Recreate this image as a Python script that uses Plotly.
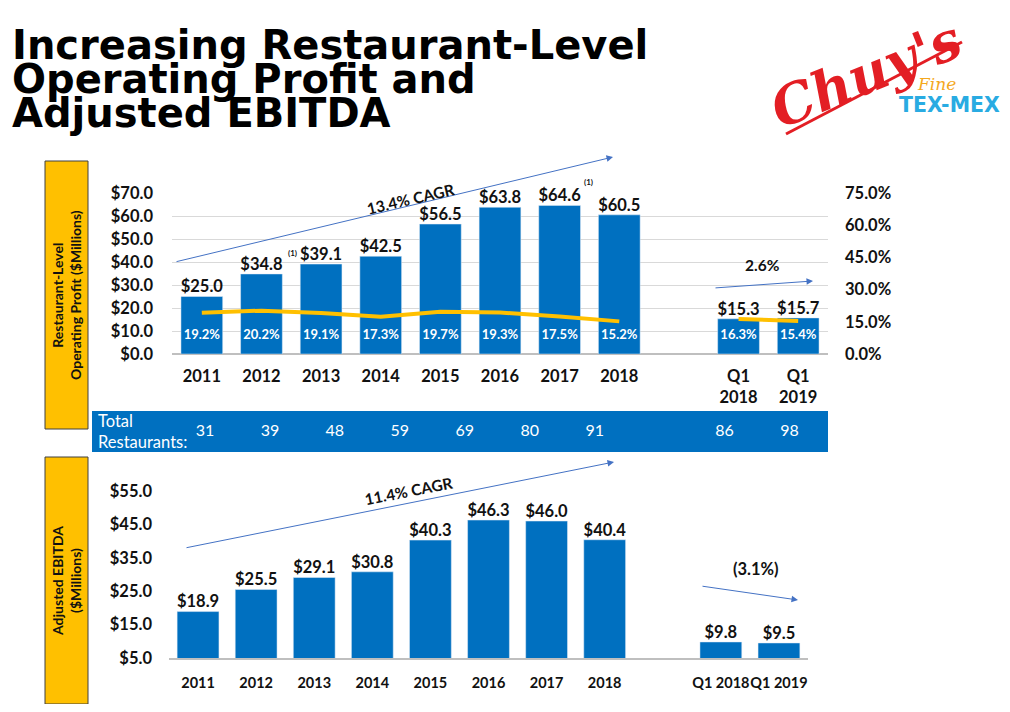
import plotly.graph_objects as go

# data
periods = ["2011", "2012", "2013", "2014", "2015", "2016", "2017", "2018", "Q1 2018", "Q1 2019"]
top_ticks = ["2011", "2012", "2013", "2014", "2015", "2016", "2017", "2018", "Q1<br>2018", "Q1<br>2019"]
rlop = [25.0, 34.8, 39.1, 42.5, 56.5, 63.8, 64.6, 60.5, 15.3, 15.7]
rlop_margin = [19.2, 20.2, 19.1, 17.3, 19.7, 19.3, 17.5, 15.2, 16.3, 15.4]
ebitda = [18.9, 25.5, 29.1, 30.8, 40.3, 46.3, 46.0, 40.4, 9.8, 9.5]
ebitda_ticks = [5, 15, 25, 35, 45, 55]
rest_periods = ["2011", "2012", "2013", "2014", "2015", "2016", "2017", "Q1 2018", "Q1 2019"]
restaurants = [31, 39, 48, 59, 69, 80, 91, 86, 98]

# page is 1010x712, the browser adds an 8px body margin
W, H = 994, 696
OFF = 8
BLUE = "#0070C0"
GOLD = "#FFC000"
ARROW = "#4472C4"
FONT = "Lato"
GAP = " "  # empty slot between years and quarters

order = periods[:8] + [GAP] + periods[8:]
rest_order = rest_periods[:7] + [GAP] + rest_periods[7:]


def px(x):
    return (x - OFF) / W


def py(y):
    return 1 - (y - OFF) / H


fig = go.Figure()

# top: restaurant-level operating profit
fig.add_trace(go.Bar(
    x=periods, y=rlop, marker_color=BLUE, width=0.7,
    xaxis="x", yaxis="y", showlegend=False))
fig.add_trace(go.Scatter(
    x=periods, y=rlop, mode="text", text=[f"${v:.1f}" for v in rlop],
    textposition="top center", cliponaxis=False,
    textfont=dict(family=FONT, size=16.5, color="#111", weight="bold"),
    xaxis="x", yaxis="y", showlegend=False))
# margin labels sit low inside each bar
fig.add_trace(go.Scatter(
    x=periods, y=[8] * len(periods), mode="text",
    text=[f"{m:.1f}%" for m in rlop_margin],
    textfont=dict(family=FONT, size=13, color="white", weight="bold"),
    xaxis="x", yaxis="y", showlegend=False))
fig.add_trace(go.Scatter(
    x=periods[:8] + [GAP] + periods[8:],
    y=rlop_margin[:8] + [None] + rlop_margin[8:],
    mode="lines", line=dict(color=GOLD, width=4), connectgaps=False,
    xaxis="x", yaxis="y2", showlegend=False))

# restaurant counts band
fig.add_trace(go.Scatter(
    x=rest_periods, y=[0.5] * len(rest_periods), mode="text",
    text=[str(n) for n in restaurants], cliponaxis=False,
    textfont=dict(family=FONT, size=16, color="white"),
    xaxis="x3", yaxis="y5", showlegend=False))

# bottom: adjusted EBITDA
fig.add_trace(go.Bar(
    x=periods, y=ebitda, marker_color=BLUE, width=0.72,
    xaxis="x2", yaxis="y3", showlegend=False))
fig.add_trace(go.Scatter(
    x=periods, y=ebitda, mode="text", text=[f"${v:.1f}" for v in ebitda],
    textposition="top center", cliponaxis=False,
    textfont=dict(family=FONT, size=16.5, color="#111", weight="bold"),
    xaxis="x2", yaxis="y3", showlegend=False))

tick_font = dict(family=FONT, size=16.5, color="#111", weight="bold")

fig.update_layout(
    width=W, height=H, margin=dict(l=0, r=0, t=0, b=0, autoexpand=False),
    paper_bgcolor="white", plot_bgcolor="rgba(0,0,0,0)",
    xaxis=dict(domain=[px(172), px(828)], type="category", categoryorder="array",
               categoryarray=order, range=[-0.5, 10.5], tickmode="array",
               tickvals=periods, ticktext=top_ticks, tickangle=0, automargin=False,
               tickfont=tick_font, showgrid=False, ticks="", ticklabelstandoff=10,
               anchor="y"),
    yaxis=dict(domain=[py(354), py(193)], range=[0, 70], dtick=10, tickprefix="$",
               tickformat=".1f", tickfont=tick_font, gridcolor="#D9D9D9", automargin=False,
               zeroline=True, zerolinecolor="#BFBFBF", zerolinewidth=1.5,
               ticklabelstandoff=18, anchor="x"),
    yaxis2=dict(overlaying="y", side="right", range=[0, 75], dtick=15, ticksuffix="%",
                tickformat=".1f", tickfont=tick_font, showgrid=False, zeroline=False,
                automargin=False, ticklabelstandoff=16, anchor="x"),
    xaxis2=dict(domain=[px(169), px(808)], type="category", categoryorder="array",
                categoryarray=order, range=[-0.5, 10.5], tickangle=0,
                tickfont=dict(family=FONT, size=14.5, color="#111", weight="bold"),
                automargin=False, showgrid=False, ticks="", showline=True,
                linecolor="#BFBFBF", linewidth=2, ticklabelstandoff=11, anchor="y3"),
    yaxis3=dict(domain=[py(658), py(491)], range=[5, 55], tickmode="array",
                tickvals=ebitda_ticks, ticktext=[f"${v:.1f}" for v in ebitda_ticks],
                tickfont=tick_font, showgrid=False, zeroline=False, automargin=False,
                ticklabelstandoff=16, anchor="x2"),
    yaxis4=dict(overlaying="y3", range=[5, 55], tickvals=ebitda_ticks[1:-1],
                showticklabels=False, showgrid=True, gridcolor="#ECECEC", zeroline=False,
                automargin=False, anchor="x2"),
    xaxis3=dict(domain=[px(172.5), px(822)], type="category", categoryorder="array",
                categoryarray=rest_order, range=[-0.5, 9.5], visible=False, anchor="y5"),
    yaxis5=dict(domain=[py(452), py(411)], range=[0, 1], visible=False, anchor="x3"),
)

shapes = [
    # side labels
    dict(type="rect", xref="paper", yref="paper", x0=px(45), x1=px(88), y0=py(429), y1=py(161),
         fillcolor=GOLD, line=dict(color="#404040", width=1), layer="below"),
    dict(type="rect", xref="paper", yref="paper", x0=px(45), x1=px(88), y0=py(704), y1=py(457),
         fillcolor=GOLD, line=dict(color="#404040", width=1), layer="below"),
    # restaurants band
    dict(type="rect", xref="paper", yref="paper", x0=px(92), x1=px(828), y0=py(452), y1=py(411),
         fillcolor=BLUE, line=dict(width=0), layer="below"),
    # logo swash
    dict(type="line", xref="paper", yref="paper", x0=px(786), y0=py(134), x1=px(962), y1=py(42),
         line=dict(color="#E31E24", width=3)),
]
fig.update_layout(shapes=shapes)

ann = []


def text(x, y, s, size, color="#111", bold=True, angle=0, family=FONT, xanchor="center",
         italic=False):
    ann.append(dict(xref="paper", yref="paper", x=px(x), y=py(y), text=s, showarrow=False,
                    textangle=angle, xanchor=xanchor, yanchor="middle",
                    font=dict(family=family, size=size, color=color,
                              weight="bold" if bold else "normal",
                              style="italic" if italic else "normal")))


def arrow(x0, y0, x1, y1):
    # tail offset given in pixels from the head
    ann.append(dict(xref="paper", yref="paper", axref="pixel", ayref="pixel",
                    x=px(x1), y=py(y1), ax=x0 - x1, ay=y0 - y1, text="", showarrow=True,
                    arrowhead=2, arrowsize=1.3, arrowwidth=1, arrowcolor=ARROW))


# title
text(10, 45, "Increasing Restaurant-Level", 40, color="black", family="DejaVu Sans", xanchor="left")
text(10, 79, "Operating Profit and", 40, color="black", family="DejaVu Sans", xanchor="left")
text(10, 113, "Adjusted EBITDA", 40, color="black", family="DejaVu Sans", xanchor="left")

# logo
text(866, 74, "Chuy's", 54, color="#E31E24", family="DejaVu Serif", angle=-22, italic=True)
text(936, 84, "Fine", 17, color="#F4A81D", bold=False, family="DejaVu Serif", italic=True)
text(949, 105, "TEX-MEX", 20.5, color="#29ABE2", family="DejaVu Sans")

# side box labels
text(66, 295, "Restaurant-Level<br>Operating Profit ($Millions)", 14, angle=-90)
text(66, 581, "Adjusted EBITDA<br>($Millions)", 14, angle=-90)

# band label
ann.append(dict(xref="paper", yref="paper", x=px(96), y=py(431), text="Total<br>Restaurants:",
                showarrow=False, xanchor="left", yanchor="middle", align="left",
                font=dict(family=FONT, size=16.5, color="white")))

# growth arrows and notes
arrow(175, 262, 613, 157)
text(410, 199, "13.4% CAGR", 15.5, angle=-13)
arrow(714, 288, 813, 281)
text(762, 265, "2.6%", 15.5)
text(292, 253, "(1)", 8)
text(588, 182, "(1)", 8)

arrow(185, 548, 614, 462)
text(408, 491, "11.4% CAGR", 15.5, angle=-11)
arrow(701, 586, 798, 600)
text(756, 569, "(3.1%)", 16.5)

fig.update_layout(annotations=ann)

fig.write_html("out.html")
